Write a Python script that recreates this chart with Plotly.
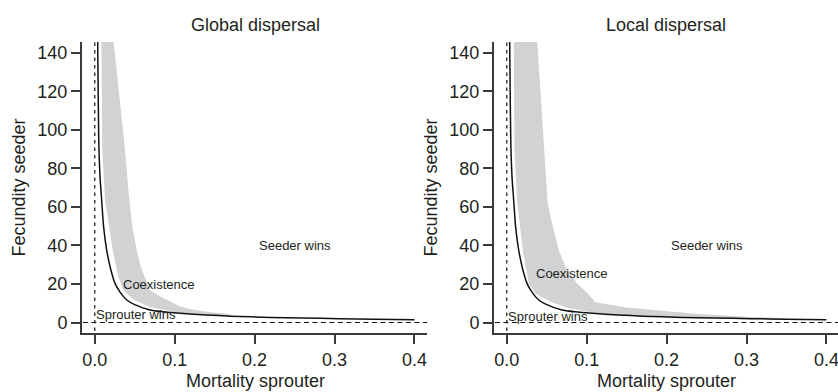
import plotly.graph_objects as go

# ---------------- data ----------------
# Boundary curve (same in both panels): fecundity needed vs. sprouter mortality
curve_m = [0.0033, 0.004, 0.005, 0.0065, 0.0086, 0.011, 0.0149, 0.02, 0.0253, 0.032,
           0.04, 0.05, 0.069, 0.085, 0.107, 0.14, 0.17, 0.22, 0.26, 0.306, 0.35, 0.4]
curve_f = [160, 130, 94, 76, 63.6, 50, 37.6, 27.5, 20.3, 15.5,
           11.7, 9.3, 6.5, 5.6, 4.8, 3.9, 3.3, 2.6, 2.3, 2.0, 1.7, 1.4]

# Coexistence band, global dispersal (upper edge top->bottom, lower edge bottom->top)
glob_upper_m = [0.0225, 0.0378, 0.0432, 0.047, 0.0524, 0.0574, 0.069, 0.0775, 0.09,
                0.106, 0.119, 0.14, 0.165, 0.172]
glob_upper_f = [150, 89.5, 63.6, 49.7, 37.6, 29, 16.9, 14.5, 11.8,
                8.5, 7.0, 5.6, 4.6, 3.9]
glob_lower_m = [0.165, 0.13, 0.1, 0.069, 0.048, 0.036, 0.0294, 0.0224, 0.0128, 0.0094, 0.0082]
glob_lower_f = [3.4, 4.2, 5.3, 8.0, 12.0, 16.5, 23.7, 37.6, 63.6, 89.5, 150]

# Coexistence band, local dispersal
loc_upper_m = [0.0375, 0.0476, 0.0496, 0.0508, 0.0546, 0.065, 0.0734, 0.088, 0.1014,
               0.111, 0.15, 0.232, 0.3, 0.349]
loc_upper_f = [150, 89.5, 72.2, 63.6, 54.9, 37.6, 29, 20.3, 15.1,
               10.5, 7.8, 4.7, 3.0, 2.2]
loc_lower_m = [0.349, 0.3, 0.232, 0.15, 0.111, 0.0776, 0.0567, 0.0358, 0.0275, 0.02,
               0.0129, 0.0095, 0.0088]
loc_lower_f = [1.6, 1.9, 2.5, 3.7, 5.0, 7.4, 10.4, 15.1, 20.3, 37.6,
               63.6, 89.5, 150]

panel_titles = ["Global dispersal", "Local dispersal"]
x_title = "Mortality sprouter"
y_title = "Fecundity seeder"
x_ticks = [0.0, 0.1, 0.2, 0.3, 0.4]
x_ticklabels = ["0.0", "0.1", "0.2", "0.3", "0.4"]
y_ticks = [0, 20, 40, 60, 80, 100, 120, 140]

region_labels = ["Seeder wins", "Coexistence", "Sprouter wins"]
glob_label_m = [0.25, 0.08, 0.052]
glob_label_f = [40, 19.5, 4.2]
loc_label_m = [0.25, 0.082, 0.052]
loc_label_f = [40, 25.5, 3.2]

# ---------------- figure ----------------
W, H = 838, 392
FONT = "Liberation Sans, Arial, Helvetica, sans-serif"
TXT = "#231f20"
GRAY = "#d1d2d4"
AX = "#3a3a3a"

fig = go.Figure()

panels = [
    ("x", "y", glob_upper_m, glob_upper_f, glob_lower_m, glob_lower_f, glob_label_m, glob_label_f),
    ("x2", "y2", loc_upper_m, loc_upper_f, loc_lower_m, loc_lower_f, loc_label_m, loc_label_f),
]

for xa, ya, um, uf, lm, lf, lbm, lbf in panels:
    fig.add_trace(go.Scatter(
        x=um + lm, y=uf + lf, mode="lines", fill="toself",
        fillcolor=GRAY, line=dict(width=0, color=GRAY),
        xaxis=xa, yaxis=ya, hoverinfo="skip", showlegend=False))
    # dashed reference lines at zero
    fig.add_trace(go.Scatter(
        x=[0, 0], y=[-20, 200], mode="lines",
        line=dict(color="#111111", width=1.2, dash="3.5px,4px"),
        xaxis=xa, yaxis=ya, hoverinfo="skip", showlegend=False))
    fig.add_trace(go.Scatter(
        x=[-0.1, 0.5], y=[0, 0], mode="lines",
        line=dict(color="#111111", width=1.2, dash="5px,3.5px"),
        xaxis=xa, yaxis=ya, hoverinfo="skip", showlegend=False))
    # boundary curve
    fig.add_trace(go.Scatter(
        x=curve_m, y=curve_f, mode="lines",
        line=dict(color="#111111", width=1.5, shape="spline", smoothing=0.6),
        xaxis=xa, yaxis=ya, hoverinfo="skip", showlegend=False))
    for t, mx, fy in zip(region_labels, lbm, lbf):
        fig.add_annotation(x=mx, y=fy, xref=xa, yref=ya, text=t, showarrow=False,
                           font=dict(family=FONT, size=13, color=TXT),
                           xanchor="center", yanchor="middle")

common_x = dict(range=[-0.016, 0.416], tickvals=x_ticks, ticktext=x_ticklabels,
                showline=True, linecolor=AX, linewidth=2, ticks="outside",
                ticklen=9, tickwidth=1.5, tickcolor=AX, showgrid=False, zeroline=False,
                ticklabeloverflow="allow",
                tickfont=dict(family=FONT, size=18, color=TXT), fixedrange=True)
common_y = dict(range=[-5.6, 145.6], tickvals=y_ticks,
                showline=True, linecolor=AX, linewidth=2, ticks="outside",
                ticklen=9, tickwidth=1.5, tickcolor=AX, showgrid=False, zeroline=False,
                tickfont=dict(family=FONT, size=18, color=TXT), fixedrange=True)

yd = [(H - 333.3) / H, (H - 42) / H]
fig.update_layout(
    width=W, height=H,
    margin=dict(l=0, r=0, t=0, b=0),
    paper_bgcolor="white", plot_bgcolor="white",
    showlegend=False,
    xaxis=dict(domain=[82 / W, 427.2 / W], anchor="y", **common_x),
    yaxis=dict(domain=yd, anchor="x", **common_y),
    xaxis2=dict(domain=[494 / W, 1.0], anchor="y2",
                **{**common_x, "range": [-0.016, 0.4145]}),
    yaxis2=dict(domain=yd, anchor="x2", **common_y),
)

# titles and axis labels
for cx, title in zip([255, 666], panel_titles):
    fig.add_annotation(x=cx / W, y=1 - 24.5 / H, xref="paper", yref="paper",
                       text=title, showarrow=False, xanchor="center", yanchor="middle",
                       font=dict(family=FONT, size=18, color=TXT))
    fig.add_annotation(x=cx / W, y=1 - 381 / H, xref="paper", yref="paper",
                       text=x_title, showarrow=False, xanchor="center", yanchor="middle",
                       font=dict(family=FONT, size=18, color=TXT))
for lx in [18, 430]:
    fig.add_annotation(x=lx / W, y=1 - 187.5 / H, xref="paper", yref="paper",
                       text=y_title, showarrow=False, textangle=-90,
                       xanchor="center", yanchor="middle",
                       font=dict(family=FONT, size=18, color=TXT))

fig.write_html("out.html")
